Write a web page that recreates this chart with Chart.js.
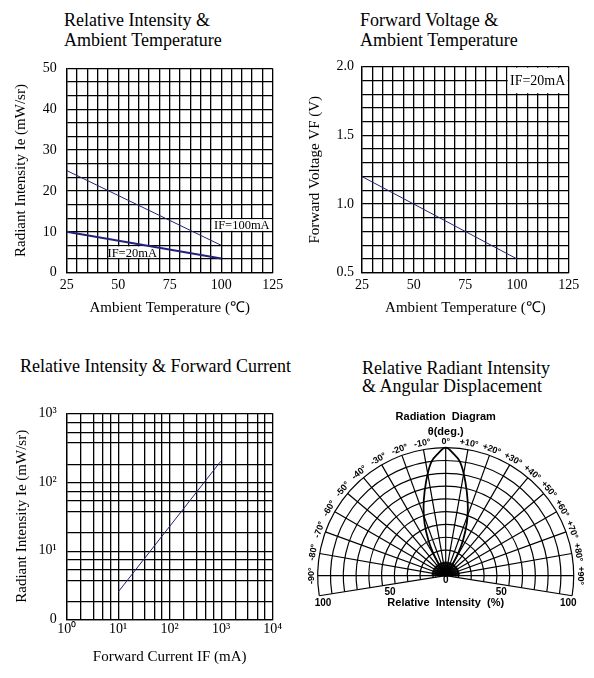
<!DOCTYPE html>
<html>
<head>
<meta charset="utf-8">
<script src="https://cdn.jsdelivr.net/npm/chart.js@4.4.0/dist/chart.umd.min.js"></script>
<style>
  body { margin: 0; background: #fff; width: 594px; height: 678px; position: relative; overflow: hidden;
         font-family: "Liberation Serif", "Times New Roman", serif; }
  canvas { position: absolute; }
  .ttl { position: absolute; font-size: 18px; line-height: 20px; color: #000; white-space: nowrap; }
</style>
</head>
<body>
<div class="ttl" style="left:64px;top:10px">Relative Intensity &amp;<br>Ambient Temperature</div>
<div class="ttl" style="left:360px;top:10px">Forward Voltage &amp;<br>Ambient Temperature</div>
<div class="ttl" style="left:20px;top:356px">Relative Intensity &amp; Forward Current</div>
<div class="ttl" style="left:362px;top:359px;line-height:18px">Relative Radiant Intensity<br>&amp; Angular Displacement</div>

<canvas id="tempIntensity" width="297" height="280" style="left:0;top:50px"></canvas>
<canvas id="tempVoltage" width="297" height="280" style="left:297px;top:50px"></canvas>
<canvas id="currentIntensity" width="297" height="288" style="left:0;top:390px"></canvas>
<canvas id="radiation" width="297" height="225" style="left:297px;top:395px"></canvas>

<script>
const SERIF = '"Liberation Serif", "Times New Roman", serif';
const SANS = '"Liberation Sans", Arial, sans-serif';
const NAVY = '#22227a';

// relative intensity vs ambient temperature
const riTemp = [25, 100];
const riIe100mA = [25, 6.7];
const riIe20mA = [10, 3.5];
const riTempLabels = [25, 50, 75, 100, 125];
const riIeLabels = [0, 10, 20, 30, 40, 50];

// forward voltage vs ambient temperature
const vfTemp = [25, 100];
const vfVolt = [1.2, 0.6];
const vfTempLabels = [25, 50, 75, 100, 125];
const vfVoltLabels = [0.5, 1.0, 1.5, 2.0];

// relative intensity vs forward current (log-log)
const ifCurrent = [10, 980];
const ifIe = [2.5, 200];
const ifXLabels = {1: '10\u2070', 10: '10\u00b9', 100: '10\u00b2', 1000: '10\u00b3', 10000: '10\u2074'};
const ifYLabels = {1: '0', 10: '10\u00b9', 100: '10\u00b2', 1000: '10\u00b3'};
const ifXGrid = [1, 1.9, 3.3, 5.1, 7.1, 10, 19, 33, 51, 71, 100, 190, 330, 510, 710, 1000, 1900, 3300, 5100, 7100, 10000];
const ifYGrid = [1, 1.8, 3.6, 5.2, 7.4, 9.6, 18, 37, 53, 72, 97, 180, 370, 530, 720, 1000];

// radiation diagram
const lobeAngle = [-36, -32, -29, -26, -22, -18, -14, -10, -7, -4, 0, 4, 7, 10, 14, 18, 22, 26, 29, 32, 36];
const lobeIntensity = [0, 8, 20, 31, 44, 56, 68, 81, 90, 95, 100, 95, 90, 81, 68, 56, 44, 31, 20, 8, 0];
const polarAngles = [-90, -80, -70, -60, -50, -40, -30, -20, -10, 0, 10, 20, 30, 40, 50, 60, 70, 80, 90];
const polarRings = [10, 20, 30, 40, 50, 60, 70, 80, 90, 100];
const intensityLabels = [100, 50, 0];

function pts(xs, ys) {
    return xs.map((x, i) => ({x: x, y: ys[i]}));
}

// grid values from..from+count*step/div
function steps(from, count, step, div) {
    let out = [];
    for (let i = 0; i <= count; i++) out.push(from + (i * step) / div);
    return out;
}

function near(list, v) {
    return list.some(t => Math.abs(t - v) < 1e-6);
}

function setTicks(values) {
    return scale => { scale.ticks = values.map(v => ({value: v})); };
}

const tickFont = {family: SERIF, size: 14};
const titleFont = {family: SERIF, size: 15};

// white boxes behind the curve labels
const labelBoxes = {
    id: 'labelBoxes',
    beforeDatasetsDraw(chart, args, opts) {
        const {ctx, scales: {x, y}} = chart;
        ctx.save();
        (opts.items || []).forEach(b => {
            let l = x.getPixelForValue(b.x0) + 1, r = x.getPixelForValue(b.x1) - 1;
            let t = y.getPixelForValue(b.y1) + 1, btm = y.getPixelForValue(b.y0) - 1;
            ctx.fillStyle = '#fff';
            ctx.fillRect(l, t, r - l, btm - t);
            ctx.fillStyle = '#000';
            ctx.font = b.size + 'px ' + SERIF;
            ctx.textAlign = 'center';
            ctx.textBaseline = 'middle';
            ctx.fillText(b.text, (l + r) / 2, (t + btm) / 2 + 1);
        });
        ctx.restore();
    }
};

function linearAxis(o) {
    return {
        type: 'linear',
        min: o.min, max: o.max,
        afterBuildTicks: setTicks(o.grid),
        afterFit: o.fit,
        border: {display: true, color: '#000', width: 1.3},
        grid: {color: '#000', lineWidth: 1.3, drawTicks: false},
        ticks: {
            color: '#000', font: tickFont, autoSkip: false, maxRotation: 0, padding: o.pad,
            callback: o.label
        },
        title: {display: true, text: o.title, color: '#000', font: titleFont, padding: o.titlePad}
    };
}

const baseOpts = {
    responsive: false,
    animation: false,
    events: [],
    plugins: {legend: {display: false}, tooltip: {enabled: false}}
};

// ---- chart 1 ----
new Chart(document.getElementById('tempIntensity'), {
    type: 'scatter',
    data: {
        datasets: [
            {data: pts(riTemp, riIe100mA), showLine: true, borderColor: NAVY, borderWidth: 1, pointRadius: 0},
            {data: pts(riTemp, riIe20mA), showLine: true, borderColor: NAVY, borderWidth: 2, pointRadius: 0}
        ]
    },
    options: Object.assign({}, baseOpts, {
        layout: {padding: {top: 16.7, right: 24.3, left: 0, bottom: 0}},
        plugins: Object.assign({}, baseOpts.plugins, {
            labelBoxes: {items: [
                {text: 'IF=100mA', x0: 95, x1: 125, y0: 10, y1: 13.333, size: 12.5},
                {text: 'IF=20mA', x0: 45, x1: 68.6, y0: 3.333, y1: 6.667, size: 12.5}
            ]}
        }),
        scales: {
            x: linearAxis({min: 25, max: 125, grid: steps(25, 20, 5, 1), pad: 4,
                fit: s => { s.height = 57.3; },
                label: v => near(riTempLabels, v) ? String(v) : '',
                title: 'Ambient Temperature (\u2103)', titlePad: {top: 0, bottom: 12.5}}),
            y: linearAxis({min: 0, max: 50, grid: steps(0, 15, 10, 3), pad: 10,
                fit: s => { s.width = 66.7; },
                label: v => near(riIeLabels, v) ? String(Math.round(v)) : '',
                title: 'Radiant Intensity Ie (mW/sr)', titlePad: {top: 12, bottom: 0}})
        }
    }),
    plugins: [labelBoxes]
});

// ---- chart 2 ----
new Chart(document.getElementById('tempVoltage'), {
    type: 'scatter',
    data: {
        datasets: [
            {data: pts(vfTemp, vfVolt), showLine: true, borderColor: NAVY, borderWidth: 1, pointRadius: 0}
        ]
    },
    options: Object.assign({}, baseOpts, {
        layout: {padding: {top: 16.7, right: 25.3, left: 0, bottom: 0}},
        plugins: Object.assign({}, baseOpts.plugins, {
            labelBoxes: {items: [
                {text: 'IF=20mA', x0: 95, x1: 125, y0: 1.8, y1: 2.0, size: 14}
            ]}
        }),
        scales: {
            x: linearAxis({min: 25, max: 125, grid: steps(25, 20, 5, 1), pad: 4,
                fit: s => { s.height = 57.3; },
                label: v => near(vfTempLabels, v) ? String(v) : '',
                title: 'Ambient Temperature (\u2103)', titlePad: {top: 0, bottom: 12.5}}),
            y: linearAxis({min: 0.5, max: 2.0, grid: steps(0.5, 15, 1, 10), pad: 8,
                fit: s => { s.width = 65; },
                label: v => near(vfVoltLabels, v) ? v.toFixed(1) : '',
                title: 'Forward Voltage VF (V)', titlePad: {top: 9.3, bottom: 0}})
        }
    }),
    plugins: [labelBoxes]
});

// ---- chart 3 ----
function logAxis(o) {
    const all = o.grid.concat(Object.keys(o.labels).map(Number).filter(v => !o.grid.includes(v)))
        .sort((a, b) => a - b);
    return {
        type: 'logarithmic',
        min: o.min, max: o.max,
        afterBuildTicks: setTicks(all),
        afterFit: o.fit,
        border: {display: true, color: '#000', width: 1.3},
        grid: {
            color: c => (c.tick && o.grid.includes(c.tick.value)) ? '#000' : 'rgba(0,0,0,0)',
            lineWidth: 1.3, drawTicks: false
        },
        ticks: {
            color: '#000', font: tickFont, autoSkip: false, maxRotation: 0, padding: o.pad,
            callback: v => o.labels[v] !== undefined ? o.labels[v] : ''
        },
        title: {display: true, text: o.title, color: '#000', font: titleFont, padding: o.titlePad}
    };
}

new Chart(document.getElementById('currentIntensity'), {
    type: 'scatter',
    data: {
        datasets: [
            {data: pts(ifCurrent, ifIe), showLine: true, borderColor: NAVY, borderWidth: 1, pointRadius: 0}
        ]
    },
    options: Object.assign({}, baseOpts, {
        layout: {padding: {top: 23.3, right: 24.3, left: 0, bottom: 0}},
        scales: {
            x: logAxis({min: 1, max: 10000, grid: ifXGrid, labels: ifXLabels, pad: 2,
                fit: s => { s.height = 58.7; },
                title: 'Forward Current IF (mA)', titlePad: {top: 0, bottom: 12.3}}),
            y: logAxis({min: 1, max: 1000, grid: ifYGrid, labels: ifYLabels, pad: 10,
                fit: s => { s.width = 66.7; },
                title: 'Radiant Intensity Ie (mW/sr)', titlePad: {top: 12.7, bottom: 0}})
        }
    })
});

// ---- chart 4: radiation diagram ----
const SLANT = 9; // degrees the intensity scale dips below horizontal

const polarGrid = {
    id: 'polarGrid',
    beforeDatasetsDraw(chart) {
        const {ctx, scales: {x, y}} = chart;
        const cx = x.getPixelForValue(0), cy = y.getPixelForValue(0);
        const k = x.getPixelForValue(1) - cx;
        const low = SLANT * Math.PI / 180;
        const R = polarRings[polarRings.length - 1];
        ctx.save();
        ctx.strokeStyle = '#000';
        ctx.lineWidth = 1.2;
        polarRings.forEach(r => {
            ctx.beginPath();
            ctx.arc(cx, cy, r * k, Math.PI - low, 2 * Math.PI + low);
            ctx.stroke();
        });
        polarAngles.forEach(a => {
            const t = a * Math.PI / 180;
            ctx.beginPath();
            ctx.moveTo(cx, cy);
            ctx.lineTo(cx + R * k * Math.sin(t), cy - R * k * Math.cos(t));
            ctx.stroke();
        });
        [-1, 1].forEach(s => {
            ctx.beginPath();
            ctx.moveTo(cx, cy);
            ctx.lineTo(cx + s * R * k * Math.cos(low), cy + R * k * Math.sin(low));
            ctx.stroke();
        });
        // dense hub
        ctx.lineWidth = 0.7;
        [2, 4, 6, 8].forEach(r => {
            ctx.beginPath();
            ctx.arc(cx, cy, r * k, Math.PI - low, 2 * Math.PI + low);
            ctx.stroke();
        });
        for (let a = -90; a <= 90; a += 2.5) {
            const t = a * Math.PI / 180;
            ctx.beginPath();
            ctx.moveTo(cx, cy);
            ctx.lineTo(cx + 11 * k * Math.sin(t), cy - 11 * k * Math.cos(t));
            ctx.stroke();
        }
        ctx.restore();
    },
    afterDraw(chart) {
        const {ctx, scales: {x, y}} = chart;
        const cx = x.getPixelForValue(0), cy = y.getPixelForValue(0);
        const k = x.getPixelForValue(1) - cx;
        const low = SLANT * Math.PI / 180;
        ctx.save();
        ctx.fillStyle = '#000';
        ctx.textAlign = 'center';
        ctx.textBaseline = 'middle';
        // angle labels round the rim
        ctx.font = 'bold 9px ' + SANS;
        polarAngles.forEach(a => {
            const t = a * Math.PI / 180;
            const txt = a === 0 ? '0\u00b0' : (a > 0 ? '+' : '-') + Math.abs(a) + '\u00b0';
            ctx.save();
            ctx.translate(cx + 105 * k * Math.sin(t), cy - 105 * k * Math.cos(t));
            ctx.rotate(t);
            ctx.fillText(txt, 0, 0);
            ctx.restore();
        });
        // intensity scale labels
        ctx.font = 'bold 10px ' + SANS;
        intensityLabels.forEach(v => {
            const r = v === 0 ? 0 : v * 0.88 + (v === 100 ? 9 : 0);
            const px = r * k * Math.cos(low), py = cy + r * k * Math.sin(low) + (v === 0 ? 5 : 8);
            if (v === 0) {
                ctx.fillText('0', cx, py);
            } else {
                ctx.fillText(String(v), cx - px, py);
                ctx.fillText(String(v), cx + px, py);
            }
        });
        ctx.font = 'bold 11px ' + SANS;
        ctx.fillText('Radiation  Diagram', cx, y.getPixelForValue(124));
        ctx.fillText('\u03b8(deg.)', cx, y.getPixelForValue(112));
        ctx.fillText('Relative  Intensity  (%)', cx, y.getPixelForValue(-21.5));
        ctx.restore();
    }
};

new Chart(document.getElementById('radiation'), {
    type: 'scatter',
    data: {
        datasets: [{
            data: lobeAngle.map((a, i) => ({
                x: lobeIntensity[i] * Math.sin(a * Math.PI / 180),
                y: lobeIntensity[i] * Math.cos(a * Math.PI / 180)
            })),
            showLine: true, borderColor: '#000', borderWidth: 1.8, pointRadius: 0, tension: 0.35
        }]
    },
    options: Object.assign({}, baseOpts, {
        layout: {padding: {left: 20.7, right: 20.3, top: 46.3, bottom: 12.3}},
        scales: {
            x: {type: 'linear', display: false, min: -100, max: 100},
            y: {type: 'linear', display: false, min: -25, max: 105}
        }
    }),
    plugins: [polarGrid]
});
</script>
</body>
</html>
